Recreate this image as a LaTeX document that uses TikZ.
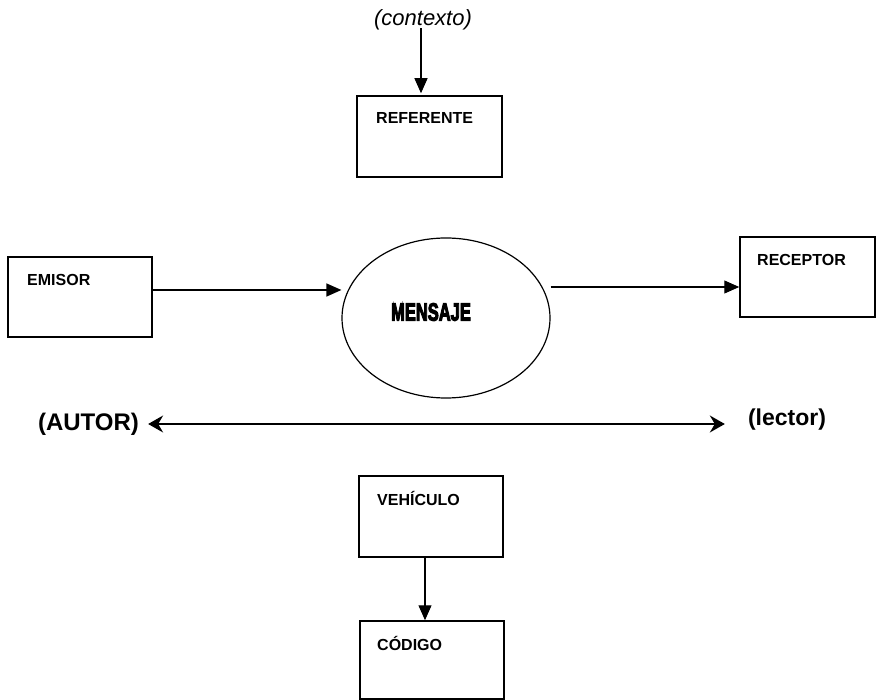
\documentclass[tikz,border=0pt]{standalone}
\usepackage{fontspec}
\setmainfont{Liberation Sans}
\newfontfamily\heavyfont{Liberation Sans}[BoldFeatures={FakeBold=5}]
\usetikzlibrary{arrows.meta,shapes.geometric}
\begin{document}
\begin{tikzpicture}[x=1pt,y=-1pt,
  box/.style={draw,line width=1.5pt,inner sep=0pt},
  lbl/.style={anchor=west,inner sep=0pt,font=\fontsize{16}{19}\selectfont\bfseries},
  arr/.style={line width=1.2pt,-{Triangle[length=15pt,width=13pt]}},
  dbl/.style={line width=1.6pt,{Stealth[length=15pt,width=17pt,inset=5pt]}-{Stealth[length=15pt,width=17pt,inset=5pt]}}]
  \useasboundingbox (0,0) rectangle (881,700);

  % boxes
  \node[box,minimum width=145pt,minimum height=81pt] (ref) at (429.5,136.5) {};
  \node[box,minimum width=144pt,minimum height=80pt] (emi) at (80,297) {};
  \node[box,minimum width=135pt,minimum height=80pt] (rec) at (807.5,277) {};
  \node[box,minimum width=144pt,minimum height=81pt] (veh) at (431,516.5) {};
  \node[box,minimum width=144pt,minimum height=78pt] (cod) at (432,660) {};
  \node[draw,ellipse,line width=1.2pt,minimum width=208pt,minimum height=160pt,inner sep=0pt] (msg) at (446,318) {};

  % box labels
  \node[lbl] (refT) at (376,118) {REFERENTE};
  \node[lbl] (emiT) at (27,280) {EMISOR};
  \node[lbl] (recT) at (757,260) {RECEPTOR};
  \node[lbl] (vehT) at (377,498) {VEHÍCULO};
  \node[lbl] (codT) at (377,643) {CÓDIGO};
  \node[inner sep=0pt,font=\fontsize{25}{28}\heavyfont\bfseries,xscale=0.66] (msgT) at (431,312) {MENSAJE};

  % free labels
  \node[inner sep=0pt,font=\fontsize{22}{26}\selectfont\itshape] (ctx) at (423,20) {(contexto)};
  \node[inner sep=0pt,font=\fontsize{24}{28}\selectfont\bfseries] (aut) at (88.5,424) {(AUTOR)};
  \node[inner sep=0pt,font=\fontsize{23}{27}\selectfont\bfseries] (lec) at (787,420) {(lector)};
  \coordinate (lend) at ([xshift=9pt]aut.east -| lec.west);

  % connectors
  \draw[arr] ([xshift=-2pt,yshift=2pt]ctx.south) -- ([xshift=-2pt,yshift=2pt]ctx.south |- ref.north);
  \draw[arr] ([yshift=7pt]emi.east) -- ([yshift=7pt]emi.east -| msg.west);
  \draw[arr] ([yshift=-10pt]rec.west -| msg.east) -- ([yshift=-10pt]rec.west);
  \draw[dbl] ([xshift=9pt]aut.east) -- ([xshift=-32pt]lend);
  \draw[arr] ([xshift=-6pt]veh.south) -- ([xshift=-6pt]veh.south |- cod.north);
\end{tikzpicture}
\end{document}
